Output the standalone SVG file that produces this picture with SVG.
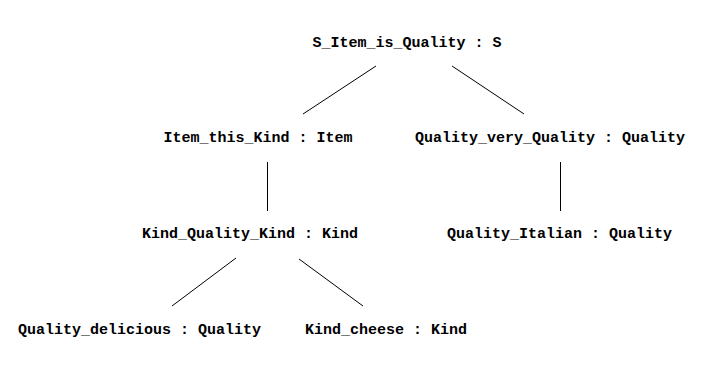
<svg xmlns="http://www.w3.org/2000/svg" width="723" height="371" viewBox="0 0 723 371">
<style>
text{font-family:"Liberation Mono","DejaVu Sans Mono",monospace;font-size:15px;font-weight:bold;fill:#000;text-anchor:middle}
.e{stroke:#000;stroke-width:1;fill:none}
</style>
<rect width="723" height="371" fill="#fff"/>
<g id="edges">
<line class="e" x1="376" y1="66" x2="303" y2="114"/>
<line class="e" x1="452" y1="66" x2="524" y2="114"/>
<line class="e" x1="267.5" y1="162" x2="267.5" y2="211"/>
<line class="e" x1="560.5" y1="162" x2="560.5" y2="211"/>
<line class="e" x1="236" y1="258" x2="172" y2="306"/>
<line class="e" x1="299" y1="259" x2="363" y2="306"/>
</g>
<g id="n0"><text x="407" y="47">S_Item_is_Quality : S</text></g>
<g id="n1"><text x="258" y="142">Item_this_Kind : Item</text></g>
<g id="n2"><text x="550" y="142">Quality_very_Quality : Quality</text></g>
<g id="n3"><text x="250" y="238">Kind_Quality_Kind : Kind</text></g>
<g id="n4"><text x="559.5" y="238">Quality_Italian : Quality</text></g>
<g id="n5"><text x="139.5" y="334">Quality_delicious : Quality</text></g>
<g id="n6"><text x="386" y="334">Kind_cheese : Kind</text></g>
</svg>
